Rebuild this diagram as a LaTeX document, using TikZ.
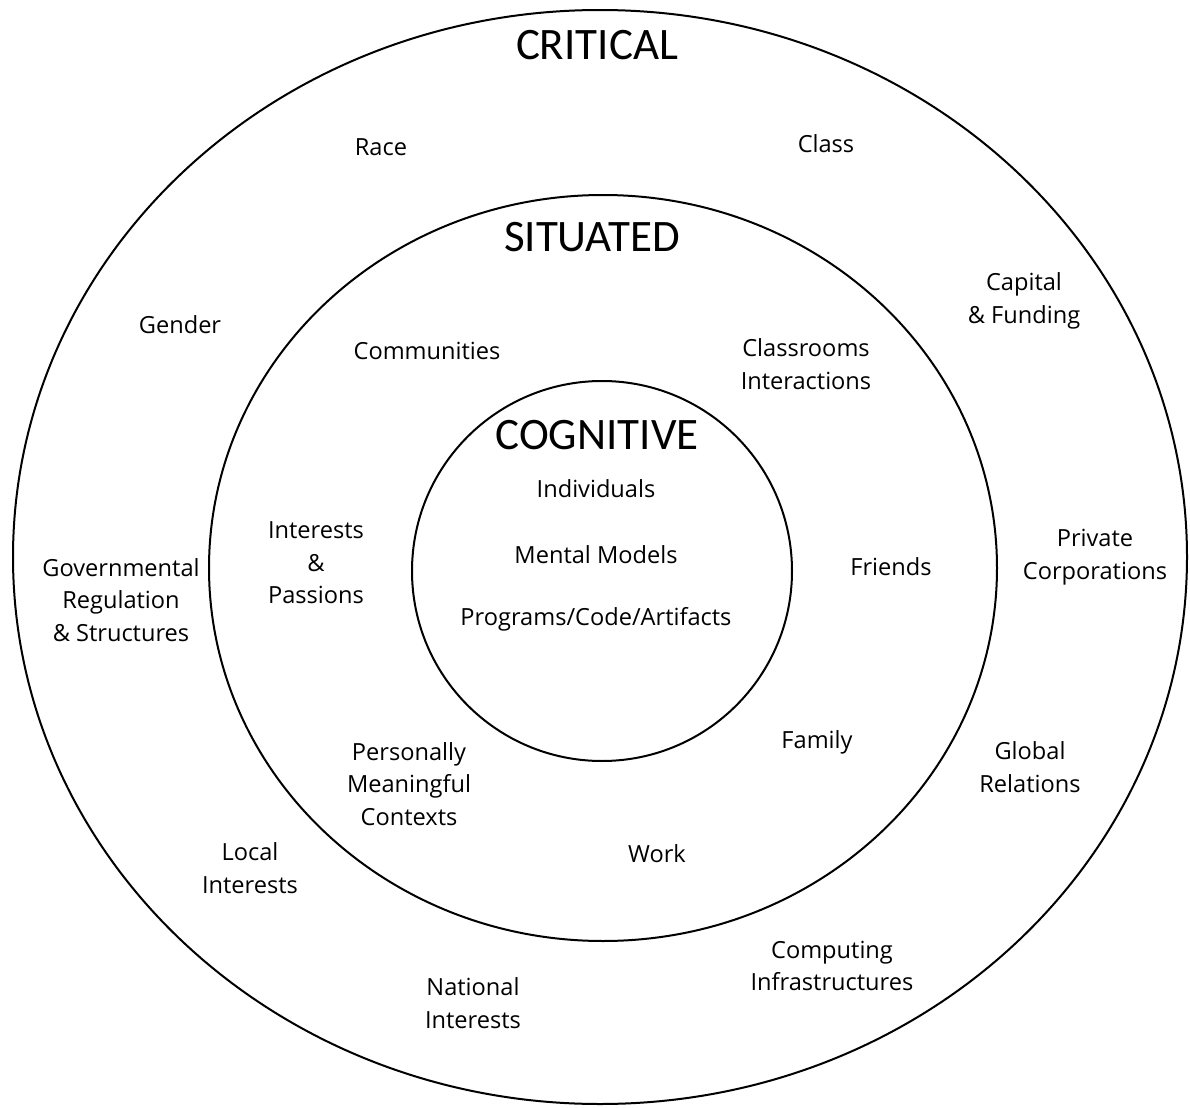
\documentclass[tikz,border=0pt]{standalone}
\usepackage{fontspec}
\setmainfont{Open Sans}
\newfontfamily\titlefont{Carlito}
\begin{document}
\begin{tikzpicture}[x=0.5pt,y=-0.5pt,
  ring/.style={draw=black,line width=1pt},
  lbl/.style={align=center,font=\fontsize{11.8}{16.2}\selectfont,inner sep=0pt},
  ttl/.style={font=\titlefont\fontsize{22.5}{27}\selectfont,inner sep=0pt}]
\useasboundingbox (0,0) rectangle (1190,1108);
\draw[ring] (600,557) ellipse [x radius=293.5pt, y radius=273.5pt];
\draw[ring] (603,568) ellipse [x radius=197pt, y radius=186.5pt];
\draw[ring] (602,571) circle [radius=95pt];
\node[ttl] (critical) at (597,45) {CRITICAL};
\node[ttl] (situated) at (592,237) {SITUATED};
\node[ttl] (cognitive) at (597,435) {COGNITIVE};
\node[lbl] (race) at (381,147) {Race};
\node[lbl] (class) at (826,144) {Class};
\node[lbl] (gender) at (180,325) {Gender};
\node[lbl] (capital) at (1024,301) {Capital\\\& Funding};
\node[lbl] (communities) at (427,351) {Communities};
\node[lbl] (classrooms) at (806,364) {Classrooms\\Interactions};
\node[lbl] (individuals) at (596,489) {Individuals};
\node[lbl] (interests) at (316,563) {Interests\\\&\\Passions};
\node[lbl] (mental) at (596,555) {Mental Models};
\node[lbl] (private) at (1095,557) {Private\\Corporations};
\node[lbl] (friends) at (891,567) {Friends};
\node[lbl] (gov) at (121,600) {Governmental\\Regulation\\\& Structures};
\node[lbl] (programs) at (596,619) {Programs/Code/Artifacts};
\node[lbl] (family) at (817,742) {Family};
\node[lbl] (personally) at (409,784) {Personally\\Meaningful\\Contexts};
\node[lbl] (global) at (1030,767) {Global\\Relations};
\node[lbl] (local) at (250,868) {Local\\Interests};
\node[lbl] (work) at (657,854) {Work};
\node[lbl] (computing) at (832,966) {Computing\\Infrastructures};
\node[lbl] (national) at (473,1003) {National\\Interests};
\end{tikzpicture}
\end{document}
